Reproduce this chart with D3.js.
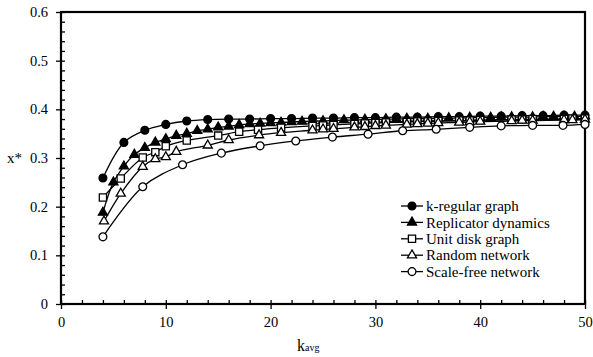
<!DOCTYPE html>
<html>
<head>
<meta charset="utf-8">
<script src="https://cdn.jsdelivr.net/npm/d3@7"></script>
<style>
  body { margin: 0; background: #fff; }
</style>
</head>
<body>
<div id="chart"></div>
<script>
// values
const regularK = [4, 6, 8, 10, 12, 14, 16, 18, 20, 22, 24, 26, 28, 30, 32, 34, 36, 38, 40, 42, 44, 46, 48, 50];
const regularX = [0.259, 0.332, 0.357, 0.369, 0.376, 0.379, 0.380, 0.380, 0.381, 0.381, 0.382, 0.382, 0.383, 0.383, 0.384, 0.384, 0.385, 0.385, 0.386, 0.386, 0.387, 0.387, 0.388, 0.388];

const replicatorK = [4, 5, 6, 7, 8, 9, 10, 11, 12, 13, 14, 15, 16, 17, 18, 19, 20, 21, 22, 23, 24, 25, 26, 27, 28, 29, 30, 31, 32, 33, 34, 35, 36, 37, 38, 39, 40, 41, 42, 43, 44, 45, 46, 47, 48, 49, 50];
const replicatorX = [0.188, 0.250, 0.283, 0.307, 0.321, 0.332, 0.339, 0.346, 0.350, 0.356, 0.359, 0.363, 0.365, 0.368, 0.370, 0.371, 0.372, 0.373, 0.374, 0.375, 0.376, 0.376, 0.377, 0.378, 0.378, 0.379, 0.379, 0.380, 0.380, 0.381, 0.381, 0.381, 0.382, 0.382, 0.382, 0.383, 0.383, 0.383, 0.384, 0.384, 0.384, 0.384, 0.385, 0.385, 0.385, 0.385, 0.386];

const unitDiskK = [4, 5.7, 7.8, 9, 10, 12, 15, 17, 18.8, 21, 24, 25, 26, 28, 29, 30, 31, 33, 34, 35, 36, 38, 39, 40, 43, 44, 45, 48, 48.8, 50];
const unitDiskX = [0.219, 0.258, 0.301, 0.312, 0.324, 0.336, 0.346, 0.354, 0.358, 0.362, 0.366, 0.367, 0.368, 0.370, 0.371, 0.372, 0.373, 0.374, 0.375, 0.375, 0.376, 0.377, 0.377, 0.378, 0.379, 0.379, 0.380, 0.380, 0.381, 0.381];

const randomK = [4.1, 5.7, 7.8, 9, 10, 11, 14, 16, 18.9, 21, 24, 25, 26, 28, 29, 30, 31, 33, 34, 35, 36, 38, 39, 40, 43, 44, 45, 48, 48.8, 50];
const randomX = [0.170, 0.227, 0.282, 0.298, 0.302, 0.313, 0.326, 0.337, 0.347, 0.352, 0.357, 0.359, 0.360, 0.363, 0.364, 0.366, 0.367, 0.369, 0.370, 0.371, 0.372, 0.373, 0.374, 0.375, 0.376, 0.377, 0.377, 0.378, 0.378, 0.379];

const scaleFreeK = [4, 7.8, 11.6, 15.3, 19, 22.4, 25.9, 29.3, 32.6, 35.8, 39, 42, 45, 47.9, 50];
const scaleFreeX = [0.138, 0.241, 0.286, 0.310, 0.325, 0.335, 0.343, 0.349, 0.356, 0.359, 0.363, 0.366, 0.367, 0.367, 0.369];

const seriesNames = ["k-regular graph", "Replicator dynamics", "Unit disk graph", "Random network", "Scale-free network"];
const xTicks = [0, 10, 20, 30, 40, 50];
const yTicks = [0, 0.1, 0.2, 0.3, 0.4, 0.5, 0.6];

const series = [
  { name: seriesNames[0], k: regularK, v: regularX, shape: "circle", fill: "#000" },
  { name: seriesNames[1], k: replicatorK, v: replicatorX, shape: "triangle", fill: "#000" },
  { name: seriesNames[2], k: unitDiskK, v: unitDiskX, shape: "square", fill: "#fff" },
  { name: seriesNames[3], k: randomK, v: randomX, shape: "triangle", fill: "#fff" },
  { name: seriesNames[4], k: scaleFreeK, v: scaleFreeX, shape: "circle", fill: "#fff" }
];

const serif = "'Liberation Serif', 'Times New Roman', serif";

const width = 593, height = 357;
const margin = { top: 12, right: 8, bottom: 53, left: 61 };
const plotW = width - margin.left - margin.right;
const plotH = height - margin.top - margin.bottom;

const svg = d3.select("#chart").append("svg")
  .attr("width", width)
  .attr("height", height)
  .style("font-family", serif);

const g = svg.append("g").attr("transform", `translate(${margin.left},${margin.top})`);

const x = d3.scaleLinear().domain([0, 50]).range([0, plotW]);
const y = d3.scaleLinear().domain([0, 0.6]).range([plotH, 0]);

const symbolOf = shape => {
  if (shape === "circle") return d3.symbol(d3.symbolCircle, 48);
  if (shape === "square") return d3.symbol(d3.symbolSquare, 52);
  return d3.symbol(d3.symbolTriangle, 36);
};

// minor ticks, inside
const xMinor = d3.range(0, 51, 2).filter(d => d % 10 !== 0);
const yMinor = d3.range(0, 31, 1).map(d => d / 50).filter((d, i) => i % 5 !== 0);

g.append("g")
  .attr("transform", `translate(0,${plotH})`)
  .call(d3.axisBottom(x).tickValues(xMinor).tickSize(-4).tickFormat(""))
  .call(a => a.select(".domain").remove());
g.append("g")
  .call(d3.axisLeft(y).tickValues(yMinor).tickSize(-4).tickFormat(""))
  .call(a => a.select(".domain").remove());

// major ticks, crossing the axis
g.append("g")
  .attr("transform", `translate(0,${plotH})`)
  .call(d3.axisBottom(x).tickValues(xTicks).tickSize(-4).tickFormat(""))
  .call(a => a.select(".domain").remove());
g.append("g")
  .call(d3.axisLeft(y).tickValues(yTicks).tickSize(-4).tickFormat(""))
  .call(a => a.select(".domain").remove());

const xAxis = g.append("g")
  .attr("transform", `translate(0,${plotH})`)
  .call(d3.axisBottom(x).tickValues(xTicks).tickSize(5).tickPadding(8).tickFormat(d3.format("d")));
const yAxis = g.append("g")
  .call(d3.axisLeft(y).tickValues(yTicks).tickSize(5).tickPadding(8)
    .tickFormat(d => d === 0 ? "0" : d3.format(".1f")(d)));

[xAxis, yAxis].forEach(a => {
  a.attr("font-family", null);
  a.selectAll("text").style("font-size", "14.5px").style("font-family", serif);
  a.select(".domain").remove();
});

g.selectAll(".tick line").attr("stroke", "#000").attr("stroke-width", 1.3);

// frame
g.append("rect")
  .attr("x", 0).attr("y", 0)
  .attr("width", plotW).attr("height", plotH)
  .attr("fill", "none")
  .attr("stroke", "#000")
  .attr("stroke-width", 2.2);

const line = d3.line()
  .x(d => x(d[0]))
  .y(d => y(d[1]))
  .curve(d3.curveCatmullRom.alpha(0.5));

series.forEach(s => {
  const pts = s.k.map((k, i) => [k, s.v[i]]);
  g.append("path")
    .datum(pts)
    .attr("d", line)
    .attr("fill", "none")
    .attr("stroke", "#000")
    .attr("stroke-width", 1.3);
  g.append("g").selectAll("path")
    .data(pts)
    .enter().append("path")
    .attr("transform", d => `translate(${x(d[0])},${y(d[1])})`)
    .attr("d", symbolOf(s.shape))
    .attr("fill", s.fill)
    .attr("stroke", "#000")
    .attr("stroke-width", 1.3);
});

// legend
const legend = svg.append("g").attr("transform", "translate(401,206)");
series.forEach((s, i) => {
  const row = legend.append("g").attr("transform", `translate(0,${i * 16.4})`);
  row.append("line")
    .attr("x1", 0).attr("x2", 22)
    .attr("stroke", "#000").attr("stroke-width", 1.3);
  row.append("path")
    .attr("transform", "translate(11,0)")
    .attr("d", symbolOf(s.shape))
    .attr("fill", s.fill)
    .attr("stroke", "#000")
    .attr("stroke-width", 1.3);
  row.append("text")
    .attr("x", 25)
    .attr("dy", "0.35em")
    .style("font-family", serif)
    .style("font-size", "15px")
    .text(s.name);
});

// axis titles
svg.append("text")
  .attr("x", 7)
  .attr("y", y(0.3) + margin.top + 5)
  .style("font-family", serif)
  .style("font-size", "15px")
  .text("x*");

const xTitle = svg.append("text")
  .attr("x", 297)
  .attr("y", 351)
  .style("font-family", serif)
  .style("font-size", "16px");
xTitle.append("tspan").text("k");
xTitle.append("tspan").style("font-size", "10px").text("avg");
</script>
</body>
</html>
